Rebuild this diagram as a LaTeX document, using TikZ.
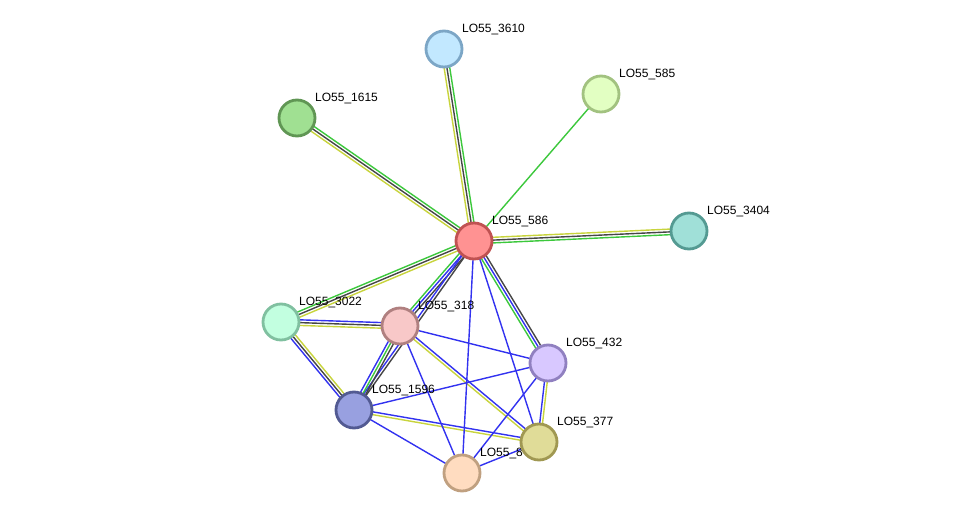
\documentclass[tikz,border=0pt]{standalone}
\usepackage{fontspec}
\setmainfont{Liberation Sans}
\usetikzlibrary{calc}
\definecolor{eg}{RGB}{60,200,60}
\definecolor{ek}{RGB}{70,70,70}
\definecolor{ey}{RGB}{200,212,60}
\definecolor{eb}{RGB}{50,50,240}
\pgfdeclarelayer{bg}
\pgfdeclarelayer{edges}
\pgfdeclarelayer{labels}
\pgfsetlayers{bg,edges,labels,main}
\tikzset{
  prot/.style={circle, minimum size=36pt, inner sep=0pt, line width=2.8pt},
  lbl/.style={anchor=base west, font=\fontsize{12}{14}\selectfont, inner sep=0pt},
  edgeln/.style={line width=1.4pt}
}
\newcommand\medge[3]{\foreach \c/\o in {#3}{\draw[edgeln,\c] ($(#1)!\o pt!90:(#2)$) -- ($(#2)!\o pt!-90:(#1)$);}}
\newcommand\plabel[2]{\begin{pgfonlayer}{labels}\node[lbl] at ($(#1)+(18,-16.5)$) {#2};\end{pgfonlayer}}
\begin{document}
\begin{tikzpicture}[x=1pt,y=-1pt]
\begin{pgfonlayer}{bg}
\fill[white] (0,0) rectangle (975,519);
\end{pgfonlayer}
\useasboundingbox (0,0) rectangle (975,519);
% nodes
\node[prot, fill={rgb,255:red,255;green,146;blue,146}, draw={rgb,255:red,192;green,82;blue,82}] (n586) at (474,241) {};
\node[prot, fill={rgb,255:red,194;green,232;blue,255}, draw={rgb,255:red,124;green,166;blue,198}] (n3610) at (444,49) {};
\node[prot, fill={rgb,255:red,226;green,255;blue,194}, draw={rgb,255:red,162;green,194;blue,128}] (n585) at (601,94) {};
\node[prot, fill={rgb,255:red,160;green,224;blue,146}, draw={rgb,255:red,96;green,150;blue,84}] (n1615) at (297,118) {};
\node[prot, fill={rgb,255:red,160;green,224;blue,216}, draw={rgb,255:red,84;green,154;blue,146}] (n3404) at (689,231) {};
\node[prot, fill={rgb,255:red,194;green,255;blue,224}, draw={rgb,255:red,128;green,192;blue,160}] (n3022) at (281,322) {};
\node[prot, fill={rgb,255:red,248;green,200;blue,200}, draw={rgb,255:red,176;green,128;blue,128}] (n318) at (400,326) {};
\node[prot, fill={rgb,255:red,216;green,200;blue,255}, draw={rgb,255:red,144;green,128;blue,192}] (n432) at (548,363) {};
\node[prot, fill={rgb,255:red,152;green,160;blue,224}, draw={rgb,255:red,82;green,90;blue,146}] (n1596) at (354,410) {};
\node[prot, fill={rgb,255:red,224;green,220;blue,152}, draw={rgb,255:red,160;green,152;blue,82}] (n377) at (539,442) {};
\node[prot, fill={rgb,255:red,255;green,220;blue,192}, draw={rgb,255:red,192;green,160;blue,128}] (n8) at (462,473) {};
% labels
\plabel{n586}{LO55\_586}
\plabel{n3610}{LO55\_3610}
\plabel{n585}{LO55\_585}
\plabel{n1615}{LO55\_1615}
\plabel{n3404}{LO55\_3404}
\plabel{n3022}{LO55\_3022}
\plabel{n318}{LO55\_318}
\plabel{n432}{LO55\_432}
\plabel{n1596}{LO55\_1596}
\plabel{n377}{LO55\_377}
\plabel{n8}{LO55\_8}
% edges
\begin{pgfonlayer}{edges}
\medge{n586}{n3610}{ey/2.8, ek/0, eg/-2.8}
\medge{n586}{n1615}{ey/2.8, ek/0, eg/-2.8}
\medge{n586}{n3404}{ey/2.8, ek/0, eg/-2.8}
\medge{n586}{n3022}{ey/2.8, ek/0, eg/-2.8}
\medge{n586}{n585}{eg/0}
\medge{n586}{n432}{ek/2.8, eb/0, eg/-2.8}
\medge{n586}{n318}{eg/-2.8, eb/0, ek/2.8}
\medge{n586}{n1596}{eb/-1.4, ek/1.4}
\medge{n318}{n1596}{eb/-2.8, eg/0, ek/2.8}
\medge{n3022}{n318}{eb/2.8, ek/0, ey/-2.8}
\medge{n3022}{n1596}{eb/-2.8, ek/0, ey/2.8}
\medge{n318}{n377}{eb/1.4, ey/-1.4}
\medge{n1596}{n377}{eb/1.4, ey/-1.4}
\medge{n432}{n377}{eb/-1.4, ey/1.4}
\medge{n318}{n432}{eb/0}
\medge{n318}{n8}{eb/0}
\medge{n1596}{n432}{eb/0}
\medge{n1596}{n8}{eb/0}
\medge{n432}{n8}{eb/0}
\medge{n377}{n8}{eb/0}
\medge{n586}{n377}{eb/0}
\medge{n586}{n8}{eb/0}
\end{pgfonlayer}
\end{tikzpicture}
\end{document}
